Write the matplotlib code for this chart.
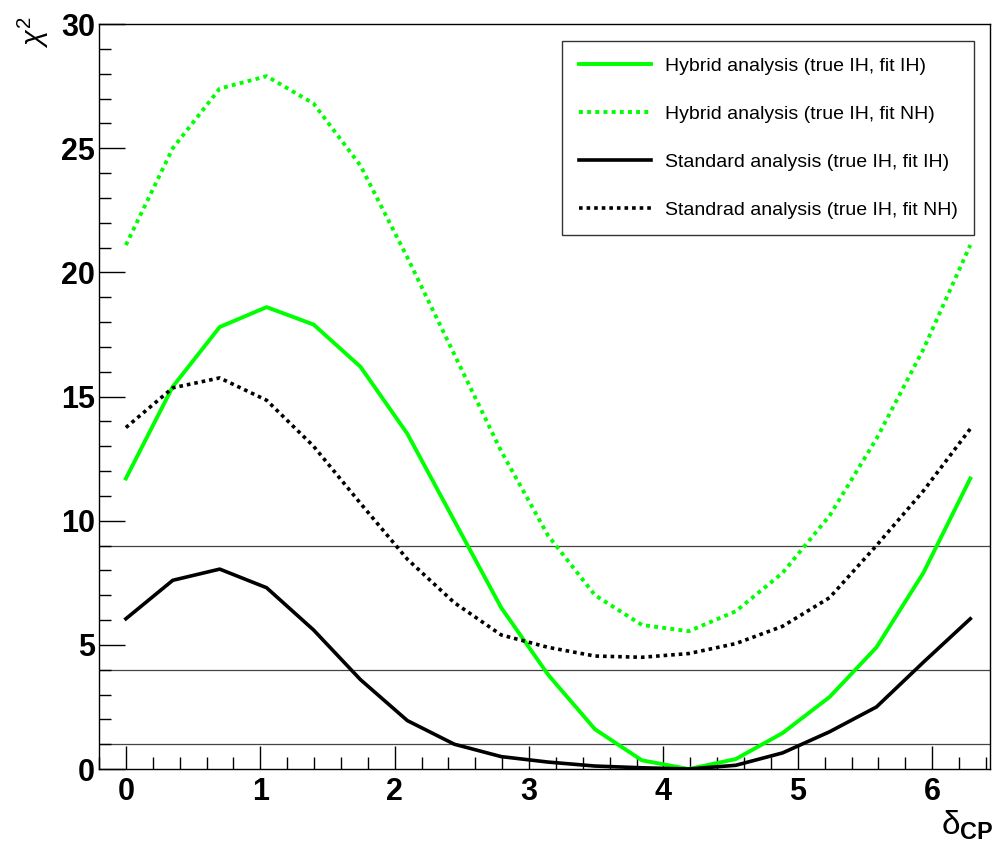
import numpy as np
import matplotlib
matplotlib.use("Agg")
import matplotlib.pyplot as plt

plt.rcParams['font.family'] = ['Liberation Sans', 'DejaVu Sans']
plt.rcParams['mathtext.fontset'] = 'custom'
plt.rcParams['mathtext.rm'] = 'Liberation Sans'
plt.rcParams['mathtext.it'] = 'Liberation Sans:italic'
plt.rcParams['mathtext.bf'] = 'Liberation Sans:bold'

# delta_CP grid, 19 points from 0 to 2*pi
delta_cp = np.linspace(0, 2 * np.pi, 19)

hybrid_ih_ih = [11.7, 15.4, 17.8, 18.6, 17.9, 16.2, 13.5, 10.0, 6.5, 3.8,
                1.6, 0.35, 0.0, 0.4, 1.45, 2.9, 4.9, 7.9, 11.7]
hybrid_ih_nh = [21.1, 25.0, 27.4, 27.9, 26.8, 24.3, 20.6, 16.7, 12.8, 9.4,
                7.0, 5.8, 5.55, 6.35, 7.9, 10.2, 13.3, 16.9, 21.1]
standard_ih_ih = [6.05, 7.6, 8.05, 7.3, 5.6, 3.6, 1.95, 1.0, 0.5, 0.28,
                  0.12, 0.05, 0.0, 0.15, 0.65, 1.5, 2.5, 4.3, 6.05]
standard_ih_nh = [13.75, 15.35, 15.75, 14.85, 13.0, 10.7, 8.45, 6.7, 5.4, 4.9,
                  4.55, 4.5, 4.65, 5.05, 5.75, 6.9, 9.0, 11.2, 13.7]

labels = ['Hybrid analysis (true IH, fit IH)',
          'Hybrid analysis (true IH, fit NH)',
          'Standard analysis (true IH, fit IH)',
          'Standrad analysis (true IH, fit NH)']

sigma_levels = [1, 4, 9]

green = '#00ff00'
dots = (0, (1, 1.1))

fig = plt.figure(figsize=(9.94, 8.49), dpi=100)
ax = fig.add_axes([0.0996, 0.0942, 0.8964, 0.8775])

for lev in sigma_levels:
    ax.axhline(lev, color='#444444', lw=0.9, zorder=1)

ax.plot(delta_cp, hybrid_ih_ih, color=green, lw=2.8, label=labels[0], zorder=3)
ax.plot(delta_cp, hybrid_ih_nh, color=green, lw=2.8, ls=dots, label=labels[1], zorder=3)
ax.plot(delta_cp, standard_ih_ih, color='black', lw=2.6, label=labels[2], zorder=3)
ax.plot(delta_cp, standard_ih_nh, color='black', lw=2.6, ls=dots, label=labels[3], zorder=3)

ax.set_xlim(-0.17, 6.43)
ax.set_ylim(0, 30)
ax.set_xticks(np.arange(0, 7, 1))
ax.set_xticks(np.arange(-0.2, 6.45, 0.2), minor=True)
ax.set_yticks(np.arange(0, 31, 5))
ax.set_yticks(np.arange(0, 31, 1), minor=True)

ax.tick_params(axis='both', which='both', direction='in', top=False, right=False,
               width=1.0, color='black')
ax.tick_params(axis='y', which='major', length=18.5, pad=3)
ax.tick_params(axis='y', which='minor', length=8.6)
ax.tick_params(axis='x', which='major', length=16.5, pad=6)
ax.tick_params(axis='x', which='minor', length=8.6)
for lab in ax.get_xticklabels() + ax.get_yticklabels():
    lab.set_fontsize(22)
    lab.set_fontweight('bold')

for sp in ax.spines.values():
    sp.set_linewidth(1.0)

fig.text(0.034, 0.962, r'$\chi^2$', rotation=90, ha='center', va='center', fontsize=21)
fig.text(0.973, 0.028, 'δ$_{\\mathbf{CP}}$', ha='center', va='center', fontsize=24)

leg = ax.legend(loc='upper right', bbox_to_anchor=(0.982, 0.977), fontsize=14,
                frameon=True, fancybox=False, edgecolor='black', handlelength=3.7,
                handletextpad=0.7, labelspacing=1.55, borderpad=0.85, borderaxespad=0)
leg.get_frame().set_linewidth(1.0)

fig.savefig('out.png', dpi=100)
